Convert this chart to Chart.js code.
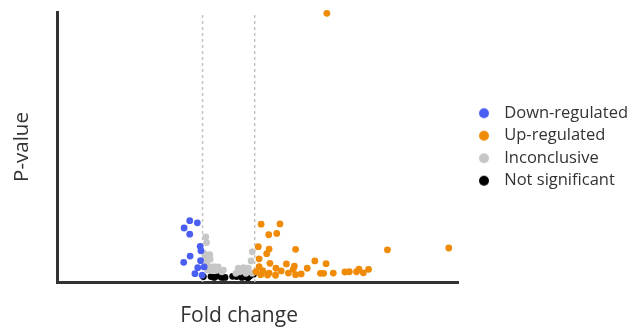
<!DOCTYPE html>
<html>
<head>
<meta charset="utf-8">
<script src="https://cdn.jsdelivr.net/npm/chart.js@4.4.0/dist/chart.umd.min.js"></script>
<style>
  html, body { margin: 0; padding: 0; background: #fff; }
</style>
</head>
<body>
<canvas id="volcano" width="634" height="329"></canvas>
<script>
var seriesNames = ['Down-regulated', 'Up-regulated', 'Inconclusive', 'Not significant'];
var seriesColors = ['#4a5ef2', '#ef8b07', '#c6c6c6', '#000000'];

// fold change (x) and p-value (y) on a 0-100 scale
var downX = [33.1, 35.0, 31.7, 33.1, 35.7, 35.9, 33.2, 35.8, 31.6, 35.1, 36.7, 34.4, 36.2];
var downY = [22.7, 21.9, 20.0, 17.7, 13.2, 11.6, 9.6, 7.9, 7.3, 5.3, 5.6, 3.1, 2.5];

var upX = [67.3, 50.9, 55.6, 52.8, 54.8, 50.2, 52.9, 52.3, 59.5, 82.4, 97.7, 50.4, 64.3, 53.1,
           57.2, 67.1, 50.4, 54.6, 59.2, 62.4, 51.3, 55.9, 58.9, 71.8, 72.9, 75.3, 77.7, 74.7,
           76.4, 49.6, 50.8, 52.5, 52.9, 54.5, 57.7, 59.5, 60.9, 65.7, 66.5, 68.9];
var upY = [99.5, 21.4, 21.5, 17.5, 18.0, 13.1, 12.2, 10.5, 12.1, 11.9, 12.6, 8.6, 7.8, 6.9,
           6.7, 6.8, 5.7, 5.1, 5.9, 5.1, 4.2, 4.1, 4.7, 3.7, 3.8, 4.8, 4.7, 3.8,
           3.4, 3.8, 2.7, 2.6, 3.3, 2.5, 3.3, 2.7, 3.0, 3.2, 3.2, 3.3];

var inconclusiveX = [37.1, 37.3, 36.7, 38.1, 37.1, 38.2, 37.3, 38.0, 39.2, 40.2, 37.6, 38.6, 39.7,
                     41.1, 41.5, 48.7, 48.4, 46.5, 45.2, 47.7, 45.6, 47.1, 48.7, 44.6];
var inconclusiveY = [16.7, 14.6, 10.6, 10.1, 8.8, 8.4, 6.6, 5.7, 5.7, 5.6, 4.4, 4.2, 4.3,
                     3.8, 4.4, 11.2, 7.8, 5.3, 5.1, 5.1, 3.8, 3.2, 3.2, 3.2];

var notSigX = [36.5, 38.4, 39.2, 40.2, 41.1, 41.9, 43.8, 44.8, 46.1, 46.9, 47.6, 48.1, 49.0];
var notSigY = [2.0, 2.0, 1.7, 2.2, 1.7, 1.7, 2.1, 2.0, 1.7, 1.9, 1.6, 2.2, 2.9];

var thresholds = [36.3, 49.3];

var fontFamily = '"Open Sans", "Noto Sans", sans-serif';
var textColor = '#333333';

function toPoints(xs, ys) {
    return xs.map(function (x, i) { return { x: x, y: ys[i] }; });
}

// legend dot drawn a little right of the box centre
function dotImage(color) {
    var c = document.createElement('canvas');
    c.width = 20;
    c.height = 12;
    var g = c.getContext('2d');
    g.fillStyle = color;
    g.beginPath();
    g.arc(14, 6, 5, 0, Math.PI * 2);
    g.fill();
    return c;
}

var seriesData = [
    toPoints(downX, downY),
    toPoints(upX, upY),
    toPoints(inconclusiveX, inconclusiveY),
    toPoints(notSigX, notSigY)
];

var datasets = seriesData.map(function (pts, i) {
    return {
        type: 'scatter',
        label: seriesNames[i],
        data: pts,
        backgroundColor: seriesColors[i],
        borderWidth: 0,
        pointRadius: 3.4,
        clip: false,
        order: 1
    };
});

thresholds.forEach(function (t) {
    datasets.push({
        type: 'line',
        label: 'threshold',
        data: [{ x: t, y: 0 }, { x: t, y: 100 }],
        borderColor: '#c4c4c4',
        borderWidth: 1.5,
        borderDash: [3, 3],
        pointRadius: 0,
        fill: false,
        order: 2
    });
});

var xTitle = {
    id: 'xTitle',
    afterDraw: function (chart) {
        var ctx = chart.ctx;
        var a = chart.chartArea;
        ctx.save();
        ctx.font = '21px ' + fontFamily;
        ctx.fillStyle = textColor;
        ctx.textAlign = 'center';
        ctx.textBaseline = 'middle';
        ctx.fillText('Fold change', a.left + (a.right - a.left) * 0.454, 316);
        ctx.restore();
    }
};

new Chart(document.getElementById('volcano'), {
    type: 'scatter',
    data: { datasets: datasets },
    plugins: [xTitle],
    options: {
        responsive: false,
        animation: false,
        layout: { padding: { top: 12, right: 0, bottom: 0, left: 0 } },
        scales: {
            x: {
                type: 'linear',
                min: 0,
                max: 100,
                grid: { display: false },
                ticks: { display: false },
                border: { color: '#333333', width: 3 },
                afterFit: function (s) { s.height = 47; }
            },
            y: {
                min: 0,
                max: 100,
                grid: { display: false },
                ticks: { display: false },
                border: { color: '#333333', width: 3 },
                title: {
                    display: true,
                    text: 'P-value',
                    color: textColor,
                    font: { family: fontFamily, size: 20.5 },
                    padding: { top: 10, bottom: 0 }
                },
                afterFit: function (s) { s.width = 57; }
            }
        },
        plugins: {
            tooltip: { enabled: false },
            legend: {
                position: 'right',
                fullSize: false,
                maxWidth: 176,
                labels: {
                    usePointStyle: true,
                    pointStyleWidth: 32,
                    boxHeight: 10,
                    padding: 6,
                    color: textColor,
                    font: { family: fontFamily, size: 16.5 },
                    generateLabels: function (chart) {
                        return Chart.defaults.plugins.legend.labels.generateLabels(chart)
                            .filter(function (item) { return item.datasetIndex < seriesNames.length; })
                            .map(function (item) {
                                item.pointStyle = dotImage(seriesColors[item.datasetIndex]);
                                return item;
                            });
                    }
                }
            }
        }
    }
});
</script>
</body>
</html>
